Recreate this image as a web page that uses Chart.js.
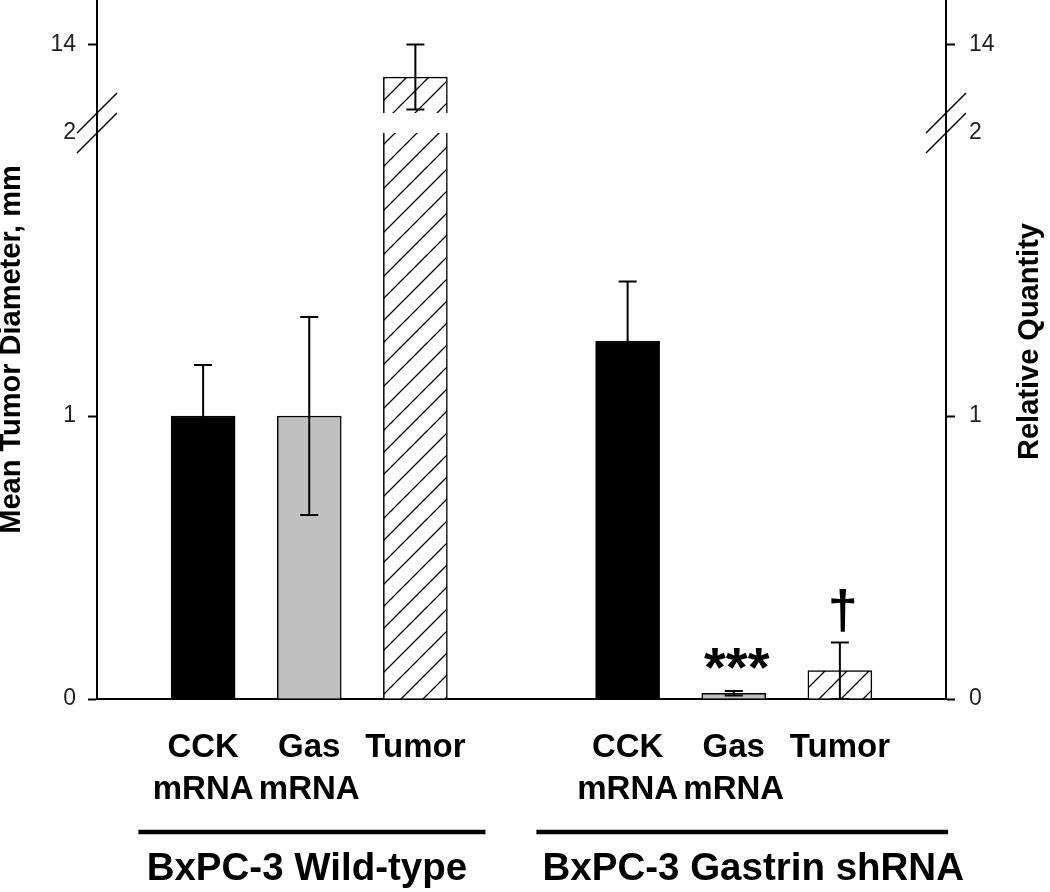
<!DOCTYPE html>
<html><head><meta charset="utf-8">
<script src="https://cdn.jsdelivr.net/npm/chart.js@4.4.1/dist/chart.umd.min.js"></script>
<style>html,body{margin:0;padding:0;background:#fff;}#wrap{width:1050px;height:892px;}</style>
</head><body><div id="wrap"><canvas id="c" width="1050" height="892"></canvas></div>
<script>
// ---------- data ----------
const groups = ['BxPC-3 Wild-type', 'BxPC-3 Gastrin shRNA'];
const categories = [['CCK', 'mRNA'], ['Gas', 'mRNA'], ['Tumor']];
const wildType = [1.0, 1.0, 13.05];
const wildTypeErr = [0.18, 0.35, 0.95];
const shRNA = [1.265, 0.02, 0.10];
const shRNAErr = [0.21, 0.008, 0.10];
const shRNAMarks = ['', '***', '\u2020'];
const yTicks = [0, 1, 2, 14];
const yBreak = { low: 2, high: 12 };
const yMax = 15.3;

const FONT = "'Liberation Sans', Arial, Helvetica, sans-serif";
const LOW_FRAC = 0.8097, GAP_FRAC = 0.0286;

// ---------- broken linear scale ----------
class BrokenLinearScale extends Chart.LinearScale {
  getPixelForValue(v) {
    const top = this.top, bottom = this.bottom, H = bottom - top;
    const pLow = bottom - H * LOW_FRAC;
    const pHigh = bottom - H * (LOW_FRAC + GAP_FRAC);
    if (v <= yBreak.low) return bottom - (v - this.min) / (yBreak.low - this.min) * (bottom - pLow);
    if (v >= yBreak.high) return pHigh - (v - yBreak.high) / (this.max - yBreak.high) * (pHigh - top);
    return pLow + (v - yBreak.low) / (yBreak.high - yBreak.low) * (pHigh - pLow);
  }
  getValueForPixel(p) {
    const top = this.top, bottom = this.bottom, H = bottom - top;
    const pLow = bottom - H * LOW_FRAC, pHigh = bottom - H * (LOW_FRAC + GAP_FRAC);
    if (p >= pLow) return this.min + (bottom - p) / (bottom - pLow) * (yBreak.low - this.min);
    if (p <= pHigh) return yBreak.high + (pHigh - p) / (pHigh - top) * (this.max - yBreak.high);
    return yBreak.low + (pLow - p) / (pLow - pHigh) * (yBreak.high - yBreak.low);
  }
}
BrokenLinearScale.id = 'brokenLinear';
BrokenLinearScale.defaults = Chart.LinearScale.defaults;
Chart.register(BrokenLinearScale);

// ---------- build points ----------
const seriesVals = [wildType, shRNA];
const seriesErrs = [wildTypeErr, shRNAErr];
const seriesMarks = [['', '', ''], shRNAMarks];
const pts = [], errs = [], marks = [], tickLabelMap = {};
groups.forEach((g, gi) => {
  categories.forEach((c, ci) => {
    const xv = gi * (categories.length + 1) + ci + 1;
    pts.push({ x: xv, y: seriesVals[gi][ci] });
    errs.push(seriesErrs[gi][ci]);
    marks.push(seriesMarks[gi][ci]);
    tickLabelMap[xv] = c;
  });
});
const xMax = groups.length * (categories.length + 1);

function hatchPattern() {
  const s = 22, c = document.createElement('canvas');
  c.width = s; c.height = s;
  const x = c.getContext('2d');
  x.fillStyle = '#fff'; x.fillRect(0, 0, s, s);
  x.strokeStyle = '#000'; x.lineWidth = 1.3;
  x.beginPath();
  x.moveTo(-2, s + 2); x.lineTo(s + 2, -2);
  x.moveTo(-2, 2); x.lineTo(2, -2);
  x.moveTo(s - 2, s + 2); x.lineTo(s + 2, s - 2);
  x.stroke();
  return x.createPattern(c, 'repeat');
}
const ctx0 = document.getElementById('c').getContext('2d');
const hatch = hatchPattern();
const fills = pts.map((p, i) => ['#000000', '#c0c0c0', hatch][i % categories.length]);

// ---------- plugins ----------
const decor = {
  id: 'decor',
  afterDatasetsDraw(chart) {
    const ctx = chart.ctx, y = chart.scales.y, ca = chart.chartArea;
    const meta = chart.getDatasetMeta(0);
    const pLow = y.getPixelForValue(yBreak.low), pHigh = y.getPixelForValue(yBreak.high);
    ctx.save();
    ctx.fillStyle = '#fff';
    ctx.fillRect(ca.left + 2, pHigh, ca.right - ca.left - 4, pLow - pHigh);
    ctx.strokeStyle = '#000'; ctx.lineWidth = 2;
    meta.data.forEach((bar, i) => {
      const v = pts[i].y, e = errs[i];
      const yt = y.getPixelForValue(v + e), yb = y.getPixelForValue(Math.max(0, v - e));
      ctx.beginPath();
      ctx.moveTo(bar.x, yt); ctx.lineTo(bar.x, yb);
      ctx.moveTo(bar.x - 9, yt); ctx.lineTo(bar.x + 9, yt);
      ctx.moveTo(bar.x - 9, yb); ctx.lineTo(bar.x + 9, yb);
      ctx.stroke();
      if (marks[i]) {
        ctx.fillStyle = '#000';
        ctx.textAlign = 'center'; ctx.textBaseline = 'alphabetic';
        if (marks[i] === '***') {
          ctx.font = 'bold 56px ' + FONT;
          ctx.fillText(marks[i], bar.x + 3, yt - 5);
        } else {
          ctx.font = 'bold 54px ' + FONT;
          ctx.fillText(marks[i], bar.x + 3, yt - 14);
        }
      }
    });
    ctx.restore();
  },
  afterDraw(chart) {
    const ctx = chart.ctx, y = chart.scales.y, x = chart.scales.x, ca = chart.chartArea;
    const pLow = y.getPixelForValue(yBreak.low), pHigh = y.getPixelForValue(yBreak.high);
    ctx.save();
    ctx.strokeStyle = '#000'; ctx.lineWidth = 1.5;
    [ca.left, ca.right].forEach(ax => {
      [pHigh, pLow].forEach(py => {
        ctx.beginPath();
        ctx.moveTo(ax - 20, py + 20); ctx.lineTo(ax + 20, py - 20);
        ctx.stroke();
      });
    });
    const spans = [[0.39, 3.66], [4.14, 8.02]];
    const textShift = [-5, 11];
    ctx.lineWidth = 4.5;
    groups.forEach((g, gi) => {
      const x0 = x.getPixelForValue(spans[gi][0]), x1 = x.getPixelForValue(spans[gi][1]);
      ctx.beginPath(); ctx.moveTo(x0, 832); ctx.lineTo(x1, 832); ctx.stroke();
      ctx.fillStyle = '#000';
      ctx.font = 'bold 38.5px ' + FONT;
      ctx.textAlign = 'center'; ctx.textBaseline = 'alphabetic';
      ctx.fillText(g, (x0 + x1) / 2 + textShift[gi], 880);
    });
    ctx.save();
    ctx.translate(1030, (ca.top + ca.bottom) / 2 - 8);
    ctx.rotate(-Math.PI / 2);
    ctx.fillStyle = '#000';
    ctx.font = 'bold 29px ' + FONT;
    ctx.textAlign = 'center'; ctx.textBaseline = 'middle';
    ctx.fillText('Relative Quantity', 0, 0);
    ctx.restore();
    ctx.restore();
  }
};

const yCommon = {
  type: 'brokenLinear',
  min: 0, max: yMax,
  afterBuildTicks: s => { s.ticks = yTicks.map(v => ({ value: v })); },
  grid: {
    drawOnChartArea: false, drawTicks: true, tickLength: 9, tickWidth: 2,
    tickColor: c => (c.tick && c.tick.value === yBreak.low) ? 'rgba(0,0,0,0)' : '#000'
  },
  border: { display: true, color: '#000', width: 2 },
};

new Chart(ctx0, {
  type: 'bar',
  data: {
    datasets: [{
      data: pts,
      backgroundColor: fills,
      borderColor: '#000',
      borderWidth: 1.5,
      barThickness: 64,
    }]
  },
  options: {
    responsive: false, animation: false, devicePixelRatio: 1,
    layout: { padding: 0 },
    plugins: { legend: { display: false }, tooltip: { enabled: false } },
    scales: {
      x: {
        type: 'linear', min: 0, max: xMax, position: 'bottom', offset: false,
        afterBuildTicks: s => { s.ticks = Object.keys(tickLabelMap).map(k => ({ value: +k })); },
        afterFit: s => { s.height = 193; s.paddingLeft = 0; s.paddingRight = 0; },
        grid: { display: false, drawTicks: false, offset: false },
        border: { display: true, color: '#000', width: 2 },
        ticks: {
          autoSkip: false, maxRotation: 0, padding: 27, color: '#000',
          font: { family: FONT, size: 33, weight: 'bold', lineHeight: 1.3 },
          callback: v => tickLabelMap[v] || ''
        }
      },
      y: Object.assign({}, yCommon, {
        position: 'left',
        afterFit: s => { s.width = 97; s.paddingTop = 0; s.paddingBottom = 0; },
        ticks: { padding: 12, color: '#222', font: { family: FONT, size: 23 } },
        title: { display: true, text: 'Mean Tumor Diameter, mm', color: '#000', padding: 0,
                 font: { family: FONT, size: 29, weight: 'bold', lineHeight: 0.8 } }
      }),
      y2: Object.assign({}, yCommon, {
        position: 'right',
        afterFit: s => { s.width = 104; s.paddingTop = 0; s.paddingBottom = 0; },
        ticks: { padding: 14, color: '#222', font: { family: FONT, size: 23 } }
      })
    }
  },
  plugins: [decor]
});
</script></body></html>
